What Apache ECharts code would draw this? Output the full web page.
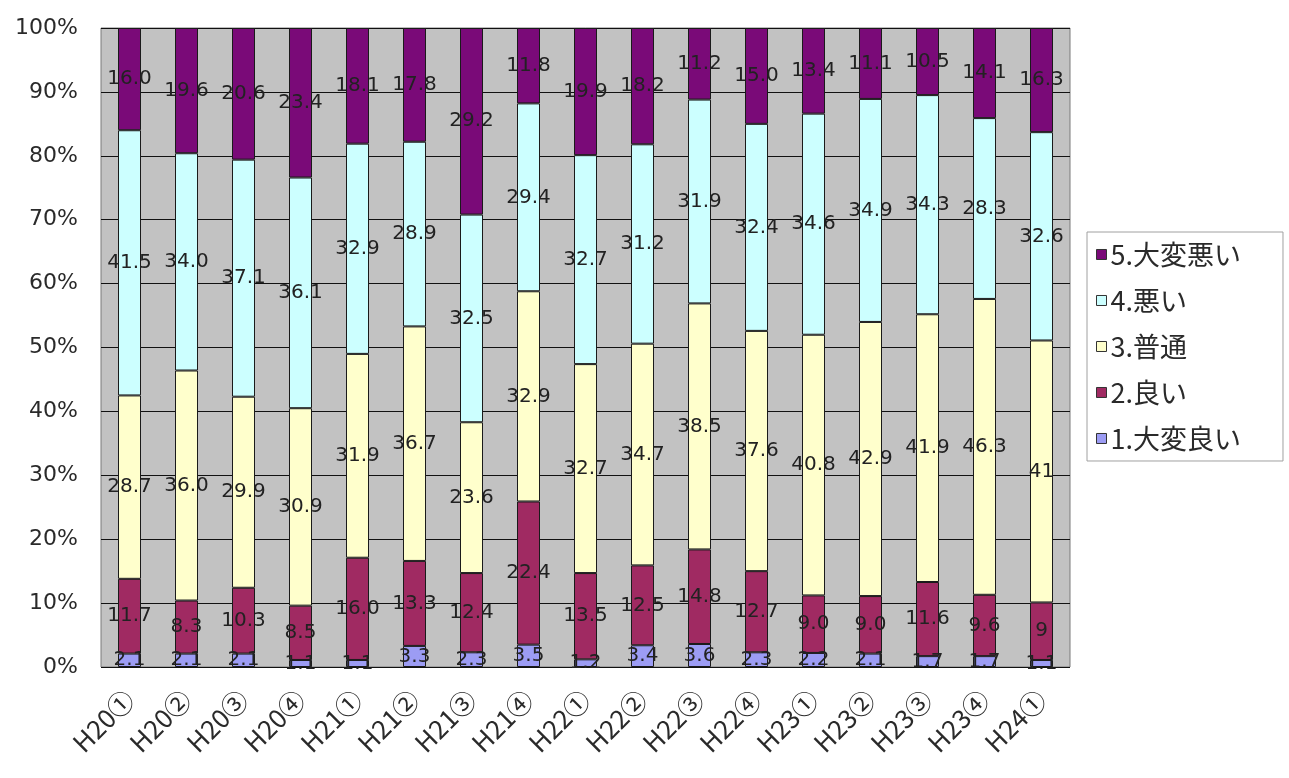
<!DOCTYPE html>
<html><head><meta charset="utf-8">
<script src="https://cdn.jsdelivr.net/npm/echarts@6/dist/echarts.min.js"></script>
<style>html,body{margin:0;padding:0;background:#fff}#c{width:1289px;height:778px}</style>
</head><body><div id="c"></div>
<script>
const categories = ['H20①','H20②','H20③','H20④','H21①','H21②','H21③','H21④','H22①','H22②','H22③','H22④','H23①','H23②','H23③','H23④','H24①'];
const s1 = ['2.1','2.1','2.1','1.1','1.1','3.3','2.3','3.5','1.2','3.4','3.6','2.3','2.2','2.1','1.7','1.7','1.1'];
const s2 = ['11.7','8.3','10.3','8.5','16.0','13.3','12.4','22.4','13.5','12.5','14.8','12.7','9.0','9.0','11.6','9.6','9'];
const s3 = ['28.7','36.0','29.9','30.9','31.9','36.7','23.6','32.9','32.7','34.7','38.5','37.6','40.8','42.9','41.9','46.3','41'];
const s4 = ['41.5','34.0','37.1','36.1','32.9','28.9','32.5','29.4','32.7','31.2','31.9','32.4','34.6','34.9','34.3','28.3','32.6'];
const s5 = ['16.0','19.6','20.6','23.4','18.1','17.8','29.2','11.8','19.9','18.2','11.2','15.0','13.4','11.1','10.5','14.1','16.3'];
const seriesNames = ['1.大変良い','2.良い','3.普通','4.悪い','5.大変悪い'];
const yTicks = ['0%','10%','20%','30%','40%','50%','60%','70%','80%','90%','100%'];
const colors = ['#9c9cf4','#a02a62','#ffffcc','#ccffff','#7a0a78'];

const all = [s1,s2,s3,s4,s5];
const chart = echarts.init(document.getElementById('c'));
const series = all.map((arr, i) => ({
  name: seriesNames[i],
  type: 'bar',
  stack: 'total',
  barWidth: 23,
  data: arr.map(v => parseFloat(v)),
  itemStyle: {color: colors[i], borderColor: '#1a1a1a', borderWidth: 1},
  label: {
    show: true, position: 'inside',
    color: '#222', fontSize: 20, fontFamily: 'DejaVu Sans, sans-serif',
    formatter: p => arr[p.dataIndex]
  },
  emphasis: {disabled: true}
}));
chart.setOption({
  animation: false,
  backgroundColor: '#fff',
  grid: {left: 101, right: 219, top: 28, bottom: 111, show: true, backgroundColor: '#c2c2c2', borderColor: '#7a7a7a', borderWidth: 1},
  legend: {
    orient: 'vertical', left: 1087, top: 232,
    data: seriesNames.slice().reverse(),
    itemWidth: 10, itemHeight: 10, itemGap: 19,
    padding: [9, 42, 9, 9],
    borderColor: '#a0a0a0', borderWidth: 1, backgroundColor: '#fff',
    icon: 'rect',
    itemStyle: {borderColor: '#333', borderWidth: 1},
    textStyle: {fontSize: 27, color: '#2a2a2a', fontFamily: 'Noto Sans CJK JP, sans-serif', padding: [0,0,0,-1]}
  },
  xAxis: {
    type: 'category', data: categories,
    axisLine: {show: false},
    axisTick: {show: false},
    axisLabel: {rotate: 45, fontSize: 26, color: '#2a2a2a', margin: 28, interval: 0, fontFamily: 'Noto Sans CJK JP, sans-serif'}
  },
  yAxis: {
    type: 'value', min: 0, max: 100, interval: 10,
    axisLine: {show: false},
    axisTick: {show: false},
    splitLine: {lineStyle: {color: '#111', width: 1}},
    axisLabel: {fontSize: 22, color: '#2a2a2a', margin: 23, fontFamily: 'DejaVu Sans, sans-serif',
      formatter: v => yTicks[Math.round(v / 10)]}
  },
  series: series
});
</script></body></html>
